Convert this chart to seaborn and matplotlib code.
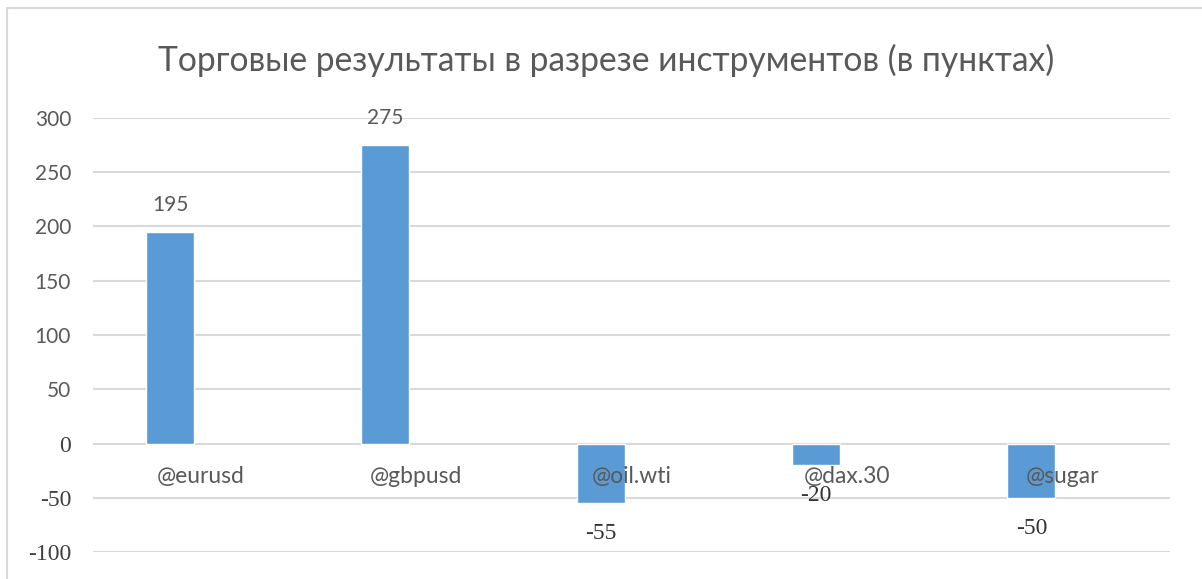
import numpy as np
import pandas as pd
import matplotlib
matplotlib.use("Agg")
import matplotlib.pyplot as plt
import seaborn as sns
from matplotlib.patches import Rectangle

# chart data
instruments = ["@eurusd", "@gbpusd", "@oil.wti", "@dax.30", "@sugar"]
results = [195, 275, -55, -20, -50]
series_names = ["Результат", "Ряд 2"]  # second series is empty, as in the source sheet
y_ticks = [-100, -50, 0, 50, 100, 150, 200, 250, 300]
y_tick_labels = ["-100", "-50", "0", "50", "100", "150", "200", "250", "300"]
title = "Торговые результаты в разрезе инструментов (в пунктах)"

SANS = "Lato"
SERIF = "Liberation Serif"
GREY_TEXT = "#595959"
GRID = "#d9d9d9"
BAR = "#5B9BD5"


def build_frame():
    df = pd.DataFrame({
        "instrument": instruments * 2,
        "series": [series_names[0]] * len(instruments) + [series_names[1]] * len(instruments),
        "value": results + [np.nan] * len(instruments),
    })
    return df


def main():
    sns.set_theme(style="white")
    plt.rcParams["font.family"] = [SANS, "DejaVu Sans"]

    df = build_frame()
    fig = plt.figure(figsize=(12.02, 5.79), dpi=100)
    ax = fig.add_axes([93.3 / 1202, (579 - 552) / 579, (1170 - 93.3) / 1202, (552 - 118) / 579])

    sns.barplot(
        data=df, x="instrument", y="value", hue="series",
        order=instruments, hue_order=series_names,
        palette={series_names[0]: BAR, series_names[1]: "#ED7D31"},
        width=0.576, gap=0.226, legend=False, errorbar=None,
        saturation=1, ax=ax, zorder=2,
    )

    ax.set_ylim(-100, 300)
    ax.set_yticks(y_ticks)
    ax.set_yticklabels(y_tick_labels)
    for lbl, v in zip(ax.get_yticklabels(), y_ticks):
        if v <= 0:
            lbl.set_fontfamily(SERIF)
            lbl.set_fontsize(17)
            lbl.set_color("#404040")
        else:
            lbl.set_fontfamily(SANS)
            lbl.set_fontsize(15)
            lbl.set_color(GREY_TEXT)
    ax.tick_params(axis="y", length=0, pad=16)
    ax.tick_params(axis="x", length=0, pad=16, labelsize=16.5, labelcolor=GREY_TEXT)
    ax.set_xlabel("")
    ax.set_ylabel("")

    # gridlines under the bars, axis labels over them
    for v in y_ticks:
        ax.axhline(v, color=GRID, linewidth=1.5, zorder=0.5)
    ax.set_axisbelow(False)
    ax.xaxis.set_zorder(3)
    for side in ["top", "right", "left", "bottom"]:
        ax.spines[side].set_visible(False)
    ax.spines["bottom"].set_position(("data", 0))

    # value labels
    for patch, v in zip(ax.containers[0], results):
        cx = patch.get_x() + patch.get_width() / 2
        if v >= 0:
            ax.annotate(str(v), (cx, v), xytext=(0, 19.5), textcoords="offset points",
                        ha="center", va="center", fontsize=15, color=GREY_TEXT,
                        fontfamily=SANS, zorder=4)
        else:
            ax.annotate(str(v), (cx, v), xytext=(0, -22), textcoords="offset points",
                        ha="center", va="center", fontsize=17, color="#333333",
                        fontfamily=SERIF, zorder=4)

    fig.text(606 / 1202, 1 - 60 / 579, title, ha="center", va="center",
             fontsize=24.2, color=GREY_TEXT, fontfamily=SANS)

    # chart area border
    fig.patches.append(Rectangle((7 / 1202, -0.1), 1.2, 1 - 8 / 579 + 0.1,
                                 transform=fig.transFigure, fill=False,
                                 edgecolor=GRID, linewidth=1.5))

    fig.savefig("out.png", dpi=100)
    plt.close(fig)


if __name__ == "__main__":
    main()
